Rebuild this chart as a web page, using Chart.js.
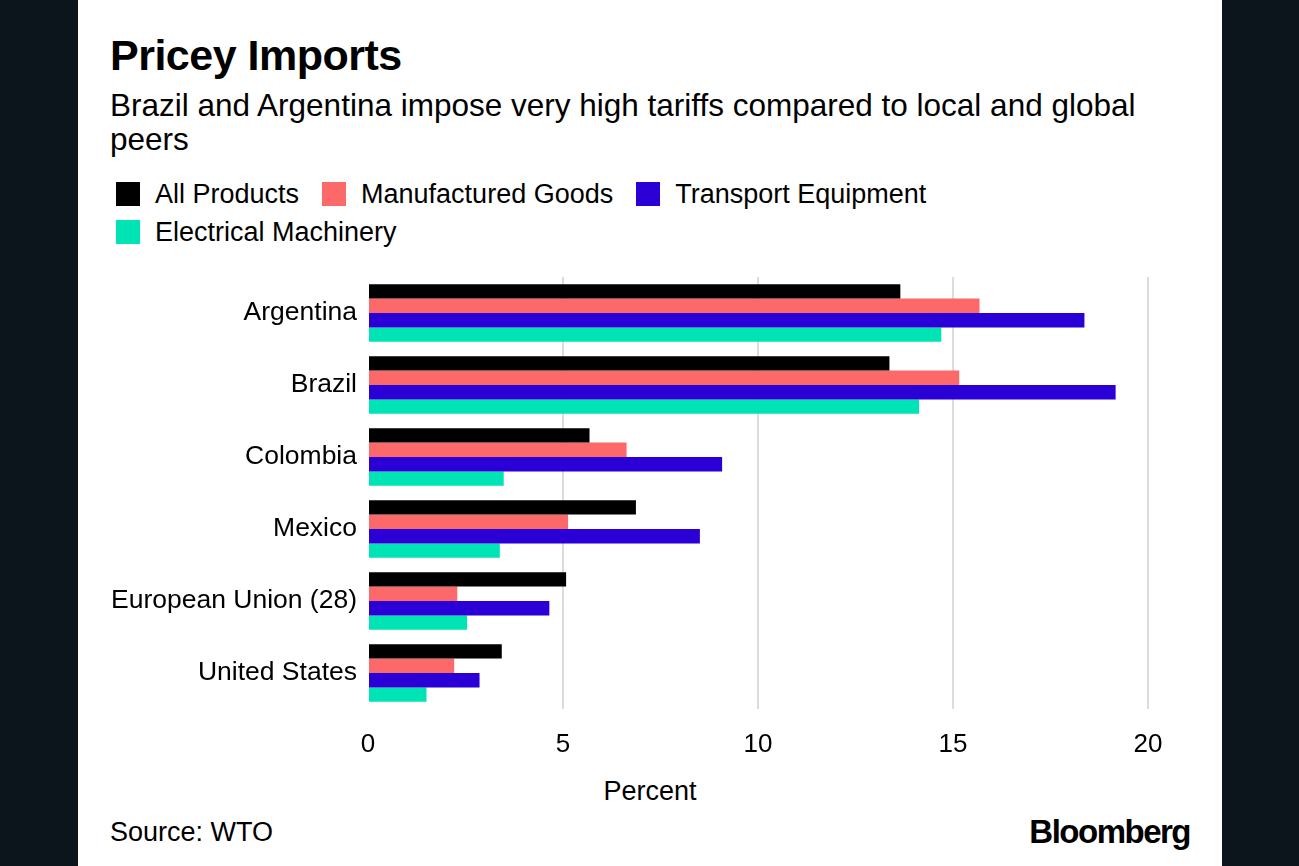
<!DOCTYPE html>
<html lang="en">
<head>
  <meta charset="UTF-8">
  <title>Pricey Imports</title>
  <script src="https://cdn.jsdelivr.net/npm/chart.js"></script>
  <style>
    body {
      margin: 0;
      background: #0b151b;
      font-family: "Liberation Sans", Arial, sans-serif;
      color: #000;
    }
    .panel {
      position: absolute;
      left: 78px;
      top: 0;
      width: 1144px;
      height: 866px;
      background: #fff;
    }
    .title {
      position: absolute;
      left: 32px;
      top: 30px;
      font-size: 43px;
      font-weight: bold;
      letter-spacing: -0.5px;
      line-height: 50px;
    }
    .subtitle {
      position: absolute;
      left: 32px;
      top: 88px;
      width: 1070px;
      font-size: 31.5px;
      line-height: 34px;
    }
    .legend {
      position: absolute;
      left: 38px;
      top: 175px;
      width: 900px;
      font-size: 27px;
    }
    .legend span.item {
      display: inline-block;
      margin-right: 23px;
      height: 38px;
      line-height: 38px;
    }
    .legend span.box {
      display: inline-block;
      width: 24px;
      height: 24px;
      margin-right: 15px;
      vertical-align: -3px;
    }
    .canvas-box {
      position: absolute;
      left: 0;
      top: 255px;
    }
    .axis-title {
      position: absolute;
      left: 0;
      width: 1144px;
      top: 776px;
      text-align: center;
      font-size: 27px;
    }
    .source {
      position: absolute;
      left: 32px;
      top: 817px;
      font-size: 27px;
    }
    .brand {
      position: absolute;
      right: 32px;
      top: 813px;
      font-size: 33px;
      font-weight: bold;
      letter-spacing: -1.5px;
    }
  </style>
</head>
<body>
  <div class="panel">
    <div class="title">Pricey Imports</div>
    <div class="subtitle">Brazil and Argentina impose very high tariffs compared to local and global peers</div>
    <div class="legend" id="legend"></div>
    <div class="canvas-box">
      <canvas id="tariffChart" width="1144" height="510"></canvas>
    </div>
    <div class="axis-title">Percent</div>
    <div class="source">Source: WTO</div>
    <div class="brand">Bloomberg</div>
  </div>

  <script>
    var countries = ['Argentina', 'Brazil', 'Colombia', 'Mexico', 'European Union (28)', 'United States'];
    var seriesNames = ['All Products', 'Manufactured Goods', 'Transport Equipment', 'Electrical Machinery'];
    var allProducts = [13.65, 13.37, 5.68, 6.87, 5.08, 3.43];
    var manufacturedGoods = [15.68, 15.16, 6.63, 5.13, 2.29, 2.21];
    var transportEquipment = [18.37, 19.17, 9.08, 8.51, 4.65, 2.86];
    var electricalMachinery = [14.70, 14.13, 3.48, 3.38, 2.54, 1.50];
    var xTicks = [0, 5, 10, 15, 20];
    var colors = ['#000000', '#fd6868', '#2a00d6', '#00e4b5'];

    var seriesValues = [allProducts, manufacturedGoods, transportEquipment, electricalMachinery];
    var datasets = seriesNames.map(function(name, i) {
      return {
        label: name,
        data: seriesValues[i],
        backgroundColor: colors[i],
        borderWidth: 0,
        categoryPercentage: 0.8,
        barPercentage: 1.0
      };
    });

    // legend drawn as html so it wraps like the original
    var legend = document.getElementById('legend');
    datasets.forEach(function(ds, i) {
      var item = document.createElement('span');
      item.className = 'item';
      item.innerHTML = '<span class="box" style="background:' + ds.backgroundColor + '"></span>' + ds.label;
      legend.appendChild(item);
      if (i === 2) legend.appendChild(document.createElement('br'));
    });

    var ctx = document.getElementById('tariffChart').getContext('2d');
    var chart = new Chart(ctx, {
      type: 'bar',
      data: {
        labels: countries,
        datasets: datasets
      },
      options: {
        indexAxis: 'y',
        responsive: false,
        animation: false,
        layout: {
          padding: { top: 22, right: 74, left: 0, bottom: 0 }
        },
        plugins: {
          legend: { display: false },
          tooltip: { enabled: false }
        },
        scales: {
          x: {
            min: 0,
            max: 20,
            afterBuildTicks: function(scale) {
              scale.ticks = xTicks.map(function(v) { return { value: v }; });
            },
            afterFit: function(scale) {
              scale.height = 56;
            },
            border: { display: false },
            grid: {
              drawTicks: false,
              lineWidth: 2,
              color: function(c) {
                return c.tick && c.tick.value === 0 ? 'rgba(0,0,0,0)' : '#dcdcdc';
              }
            },
            ticks: {
              padding: 20,
              color: '#000',
              font: { family: '"Liberation Sans", Arial, sans-serif', size: 26 }
            }
          },
          y: {
            afterFit: function(scale) {
              scale.width = 290;
              scale.paddingTop = 0;
              scale.paddingBottom = 0;
            },
            border: { display: false },
            grid: { display: false, drawTicks: false },
            ticks: {
              padding: 11,
              color: '#000',
              font: { family: '"Liberation Sans", Arial, sans-serif', size: 26.5 }
            }
          }
        }
      }
    });
  </script>
</body>
</html>
